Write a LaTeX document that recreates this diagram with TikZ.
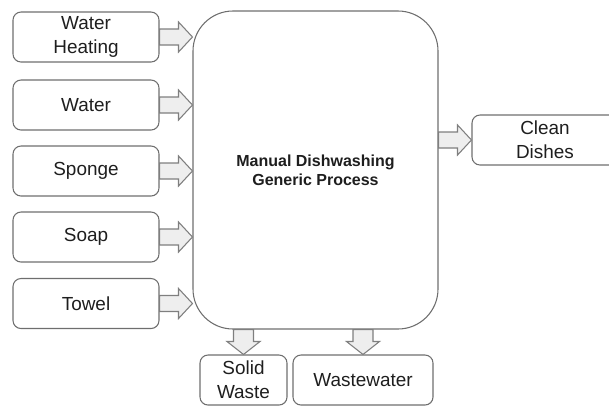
\documentclass[tikz,border=0pt]{standalone}
\usepackage{fontspec}
\setmainfont{Liberation Sans}
\usetikzlibrary{calc}

\definecolor{boxgray}{HTML}{6E6E6E}
\definecolor{arrowgray}{HTML}{7F7F7F}
\definecolor{arrowfill}{HTML}{EEEEEE}
\definecolor{textdark}{HTML}{1E1E1E}

% hollow block arrow drawn between two points
\tikzset{
  fat shaft/.store in=\fatshaft,
  fat wing/.store in=\fatwing,
  fat head/.store in=\fathead,
  fat shaft=6pt, fat wing=11.3pt, fat head=10.5pt,
  fat/.style={draw=arrowgray, fill=arrowfill, line width=0.8pt, line join=miter,
    to path={
      ($(\tikztostart)!\fatshaft!90:(\tikztotarget)$)
      -- ($(\tikztotarget)!\fathead!(\tikztostart)!\fatshaft!-90:(\tikztostart)$)
      -- ($(\tikztotarget)!\fathead!(\tikztostart)!\fatwing!-90:(\tikztostart)$)
      -- (\tikztotarget)
      -- ($(\tikztotarget)!\fathead!(\tikztostart)!\fatwing!90:(\tikztostart)$)
      -- ($(\tikztotarget)!\fathead!(\tikztostart)!\fatshaft!90:(\tikztostart)$)
      -- ($(\tikztostart)!\fatshaft!-90:(\tikztotarget)$) -- cycle}},
}

\begin{document}
\begin{tikzpicture}[
  x=0.75pt, y=-0.75pt,
  item/.style    = {draw=boxgray, line width=0.8pt, rounded corners=6pt, text=textdark,
                    minimum width=109.5pt, minimum height=37.5pt, inner sep=2pt, align=center,
                    font=\fontsize{14.2}{18}\selectfont},
  process/.style = {draw=boxgray, line width=0.8pt, rounded corners=30pt, text=textdark,
                    minimum width=183.75pt, minimum height=238.5pt, align=center,
                    font=\bfseries\fontsize{12}{14.5}\selectfont},
]
\path[use as bounding box, clip] (0,0) rectangle (609,405);

%── Nodes ─────────────────────────────────────────────────────────────────────
% inputs (left column)
\node[item]    (heat)  at (86,  37)    {Water\\Heating};
\node[item]    (water) at (86,  105)   {Water};
\node[item]    (spng)  at (86,  171)   {Sponge};
\node[item]    (soap)  at (86,  237)   {Soap};
\node[item]    (towel) at (86,  303.5) {Towel};

% process
\node[process] (proc)  at (315.5, 170) {Manual Dishwashing\\Generic Process};

% outputs
\node[item]                       (clean) at (545,   140) {Clean\\Dishes};
\node[item, minimum width=65.25pt](solid) at (243.5, 380) {Solid\\Waste};
\node[item, minimum width=105pt]  (wwat)  at (363,   380) {Wastewater};

%── Arrow end points on the process box ───────────────────────────────────────
\coordinate (heatin)  at (proc.west |- heat.east);
\coordinate (waterin) at (proc.west |- water.east);
\coordinate (spngin)  at (proc.west |- spng.east);
\coordinate (soapin)  at (proc.west |- soap.east);
\coordinate (towelin) at (proc.west |- towel.east);
\coordinate (cleanout)at (proc.east |- clean.west);
\coordinate (solidout)at (proc.south -| solid.north);
\coordinate (wwatout) at (proc.south -| wwat.north);

%── Inputs → process ──────────────────────────────────────────────────────────
\draw[fat] (heat.east)  to (heatin);
\draw[fat] (water.east) to (waterin);
\draw[fat] (spng.east)  to (spngin);
\draw[fat] (soap.east)  to (soapin);
\draw[fat] (towel.east) to (towelin);

%── Process → outputs ─────────────────────────────────────────────────────────
\draw[fat] (cleanout) to (clean.west);
\draw[fat, fat shaft=7.5pt, fat wing=12.4pt, fat head=9.75pt] (solidout) to (solid.north);
\draw[fat, fat shaft=7.5pt, fat wing=12.4pt, fat head=9.75pt] (wwatout)  to (wwat.north);

\end{tikzpicture}
\end{document}
